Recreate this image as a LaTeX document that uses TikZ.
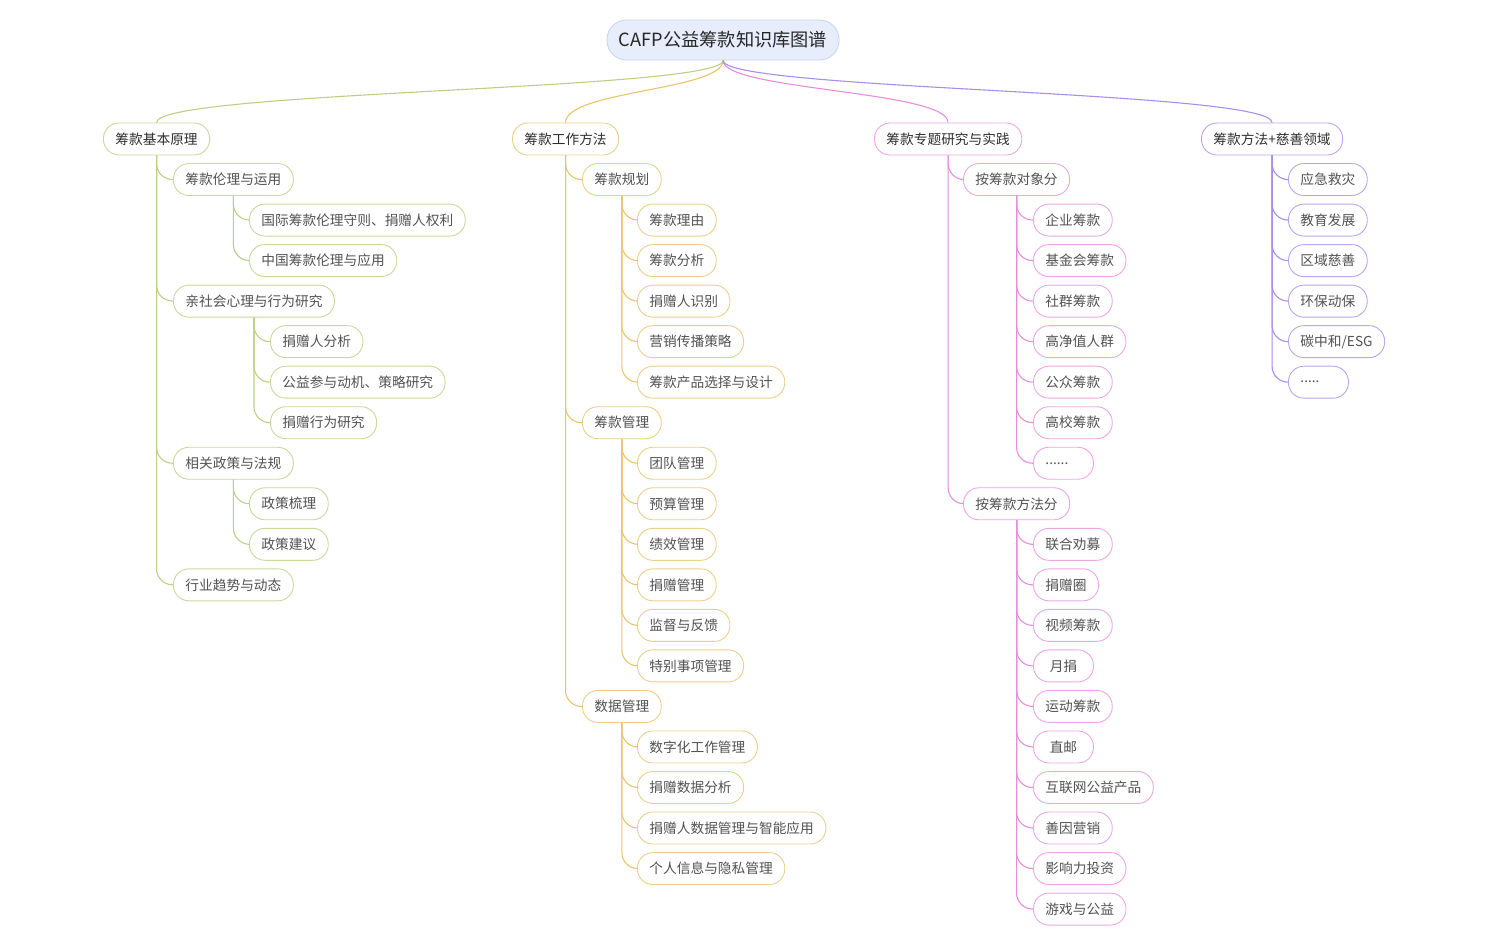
\documentclass[tikz,border=0pt]{standalone}
\usepackage{fontspec}
\setmainfont{Noto Sans CJK SC}

\definecolor{rootf}{HTML}{E7EDFB}
\definecolor{rootb}{HTML}{C9D5F2}
\definecolor{grnl}{HTML}{BBCF85}
\definecolor{grnb}{HTML}{C8D99C}
\definecolor{orgl}{HTML}{E9C46C}
\definecolor{orgb}{HTML}{EDCF8C}
\definecolor{pnkl}{HTML}{E98CDD}
\definecolor{pnkb}{HTML}{EFA6E6}
\definecolor{prpl}{HTML}{A98CEB}
\definecolor{prpb}{HTML}{BCA4F0}

\def\rh{40.53}

\begin{document}
\begin{tikzpicture}[
    x=1pt, y=-1pt,
    every node/.style={font=\fontsize{13.7}{16}\selectfont},
    rootbox/.style={draw=rootb, fill=rootf, rounded corners=19.5, minimum height=40, inner xsep=12, line width=0.9, text=black!85, font=\fontsize{18.2}{21}\selectfont},
    leafbox/.style={draw=#1, fill=white, rounded corners=15.5, minimum height=32, minimum width=60, inner xsep=12, line width=0.9, text=black!68, anchor=west},
    mainbox/.style={leafbox=#1, text=black!82},
    narrow/.style={text width=36, align=left},
    conn/.style={draw=#1, line width=1.1, rounded corners=16}
]
    \useasboundingbox (0,0) rectangle (1496,948);

    \node[rootbox] (root) at (723,40) {CAFP公益筹款知识库图谱};

    % first level
    \node[mainbox=grnb] (basic) at (103,139) {筹款基本原理};
    \node[mainbox=orgb] (work) at (512,139) {筹款工作方法};
    \node[mainbox=pnkb] (topic) at (874,139) {筹款专题研究与实践};
    \node[mainbox=prpb] (field) at (1201,139) {筹款方法+慈善领域};

    \draw[conn=grnl] (root.south) .. controls +(0,30) and +(0,-32) .. (basic.north);
    \draw[conn=orgl] (root.south) .. controls +(0,30) and +(0,-32) .. (work.north);
    \draw[conn=pnkl] (root.south) .. controls +(0,30) and +(0,-32) .. (topic.north);
    \draw[conn=prpl] (root.south) .. controls +(0,30) and +(0,-32) .. (field.north);

    % 筹款基本原理
    \node[leafbox=grnb] (ethic) at (173,{139+1*\rh}) {筹款伦理与运用};
    \node[leafbox=grnb] (psych) at (173,{139+4*\rh}) {亲社会心理与行为研究};
    \node[leafbox=grnb] (policy) at (173,{139+8*\rh}) {相关政策与法规};
    \node[leafbox=grnb] (trend) at (173,{139+11*\rh}) {行业趋势与动态};
    \foreach \n in {ethic, psych, policy, trend}
        \draw[conn=grnl] (basic.south) |- (\n.west);

    \foreach \t [count=\r from 2] in {国际筹款伦理守则、捐赠人权利, 中国筹款伦理与应用}{
        \node[leafbox=grnb] (ethic-\r) at (249,{139+\r*\rh}) {\t};
        \draw[conn=grnl] (ethic.south) |- (ethic-\r.west);
    }
    \foreach \t [count=\r from 5] in {捐赠人分析, 公益参与动机、策略研究, 捐赠行为研究}{
        \node[leafbox=grnb] (psych-\r) at (270,{139+\r*\rh}) {\t};
        \draw[conn=grnl] (psych.south) |- (psych-\r.west);
    }
    \foreach \t [count=\r from 9] in {政策梳理, 政策建议}{
        \node[leafbox=grnb] (policy-\r) at (249,{139+\r*\rh}) {\t};
        \draw[conn=grnl] (policy.south) |- (policy-\r.west);
    }

    % 筹款工作方法
    \node[leafbox=orgb] (plan) at (582,{139+1*\rh}) {筹款规划};
    \node[leafbox=orgb] (manage) at (582,{139+7*\rh}) {筹款管理};
    \node[leafbox=orgb] (data) at (582,{139+14*\rh}) {数据管理};
    \foreach \n in {plan, manage, data}
        \draw[conn=orgl] (work.south) |- (\n.west);

    \foreach \t [count=\r from 2] in {筹款理由, 筹款分析, 捐赠人识别, 营销传播策略, 筹款产品选择与设计}{
        \node[leafbox=orgb] (plan-\r) at (637,{139+\r*\rh}) {\t};
        \draw[conn=orgl] (plan.south) |- (plan-\r.west);
    }
    \foreach \t [count=\r from 8] in {团队管理, 预算管理, 绩效管理, 捐赠管理, 监督与反馈, 特别事项管理}{
        \node[leafbox=orgb] (manage-\r) at (637,{139+\r*\rh}) {\t};
        \draw[conn=orgl] (manage.south) |- (manage-\r.west);
    }
    \foreach \t [count=\r from 15] in {数字化工作管理, 捐赠数据分析, 捐赠人数据管理与智能应用, 个人信息与隐私管理}{
        \node[leafbox=orgb] (data-\r) at (637,{139+\r*\rh}) {\t};
        \draw[conn=orgl] (data.south) |- (data-\r.west);
    }

    % 筹款专题研究与实践
    \node[leafbox=pnkb] (target) at (963,{139+1*\rh}) {按筹款对象分};
    \node[leafbox=pnkb] (method) at (963,{139+9*\rh}) {按筹款方法分};
    \foreach \n in {target, method}
        \draw[conn=pnkl] (topic.south) |- (\n.west);

    \foreach \t [count=\r from 2] in {企业筹款, 基金会筹款, 社群筹款, 高净值人群, 公众筹款, 高校筹款}{
        \node[leafbox=pnkb] (target-\r) at (1033,{139+\r*\rh}) {\t};
        \draw[conn=pnkl] (target.south) |- (target-\r.west);
    }
    \node[leafbox=pnkb, narrow] (target-8) at (1033,{139+8*\rh}) {......};
    \draw[conn=pnkl] (target.south) |- (target-8.west);
    \foreach \t [count=\r from 10] in {联合劝募, 捐赠圈, 视频筹款, 月捐, 运动筹款, 直邮, 互联网公益产品, 善因营销, 影响力投资, 游戏与公益}{
        \node[leafbox=pnkb] (method-\r) at (1033,{139+\r*\rh}) {\t};
        \draw[conn=pnkl] (method.south) |- (method-\r.west);
    }

    % 筹款方法+慈善领域
    \foreach \t [count=\r from 1] in {应急救灾, 教育发展, 区域慈善, 环保动保, 碳中和/ESG}{
        \node[leafbox=prpb] (field-\r) at (1288,{139+\r*\rh}) {\t};
        \draw[conn=prpl] (field.south) |- (field-\r.west);
    }
    \node[leafbox=prpb, narrow] (field-6) at (1288,{139+6*\rh}) {.....};
    \draw[conn=prpl] (field.south) |- (field-6.west);
\end{tikzpicture}
\end{document}
